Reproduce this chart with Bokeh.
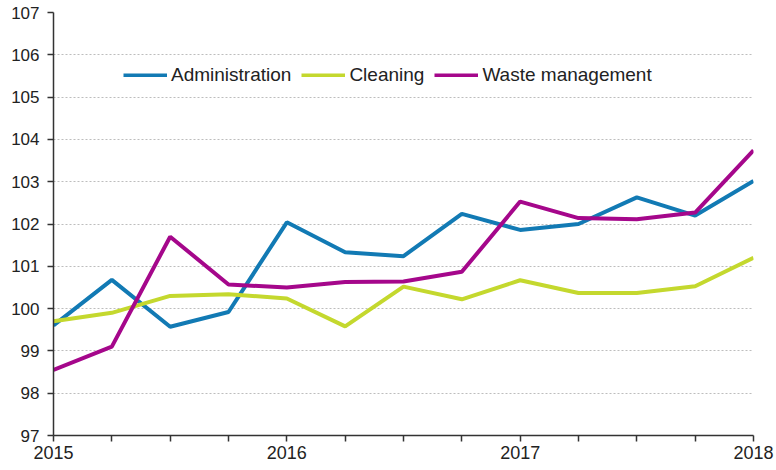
from bokeh.plotting import figure
from bokeh.models import FixedTicker, Range1d, Legend, LegendItem
from bokeh.embed import file_html
from bokeh.resources import INLINE

quarters = [2015 + 0.25 * i for i in range(13)]
administration = [99.6, 100.68, 99.57, 99.92, 102.04, 101.33, 101.24, 102.24, 101.86, 102.0, 102.63, 102.2, 103.02]
cleaning = [99.7, 99.9, 100.3, 100.34, 100.24, 99.58, 100.52, 100.22, 100.67, 100.37, 100.37, 100.53, 101.2]
waste = [98.55, 99.1, 101.7, 100.57, 100.5, 100.63, 100.64, 100.87, 102.53, 102.14, 102.11, 102.27, 103.74]
series_names = ["Administration", "Cleaning", "Waste management"]
colors = ["#127ab4", "#c4d82e", "#a5078b"]
y_ticks = list(range(97, 108))
year_ticks = [2015, 2016, 2017, 2018]

FONT = "Liberation Sans"

p = figure(width=776, height=470, output_backend="svg", toolbar_location=None,
           x_range=Range1d(2015, 2018), y_range=Range1d(97, 107),
           frame_width=700, frame_height=423,
           min_border_left=53, min_border_top=12, min_border_right=23, min_border_bottom=35)
p.outline_line_color = None
p.background_fill_color = "white"

items = []
for name, data, c in zip(series_names, [administration, cleaning, waste], colors):
    r = p.line(quarters, data, line_color=c, line_width=4)
    items.append(LegendItem(label=name, renderers=[r]))

legend = Legend(items=items, orientation="horizontal", location=(70, 349),
                glyph_width=44, glyph_height=4, label_standoff=4, spacing=10,
                label_text_font=FONT, label_text_font_size="19px", label_text_color="#222222",
                background_fill_alpha=0, border_line_color=None, padding=0, margin=0)
p.add_layout(legend, "center")

# axes
p.yaxis.ticker = FixedTicker(ticks=y_ticks)
p.xaxis.ticker = FixedTicker(ticks=quarters)
p.xaxis.major_label_overrides = {q: (str(int(q)) if q in year_ticks else "") for q in quarters}
for ax in (p.xaxis[0], p.yaxis[0]):
    ax.axis_line_color = "#333333"
    ax.axis_line_width = 1.5
    ax.major_tick_line_color = "#333333"
    ax.major_tick_line_width = 1.5
    ax.major_tick_out = 6
    ax.major_tick_in = 0
    ax.minor_tick_line_color = None
    ax.major_label_text_font = FONT
    ax.major_label_text_color = "#222222"
p.yaxis.major_label_text_font_size = "17px"
p.xaxis.major_label_text_font_size = "18px"
p.yaxis.major_label_standoff = 8
p.xaxis.major_label_standoff = 4

p.xgrid.grid_line_color = None
p.ygrid.ticker = FixedTicker(ticks=y_ticks)
p.ygrid.grid_line_color = "#bdbdbd"
p.ygrid.grid_line_dash = "2 2"
p.ygrid.grid_line_width = 1

open("out.html", "w").write(file_html(p, INLINE))
